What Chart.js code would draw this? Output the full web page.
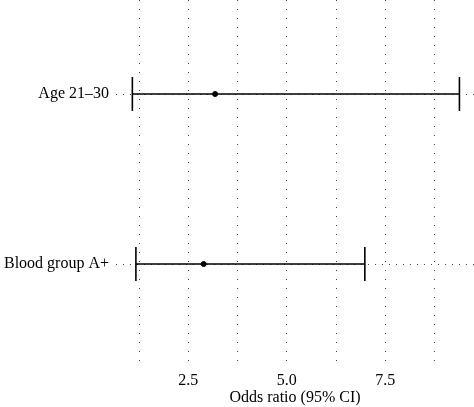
<!DOCTYPE html>
<html>
<head>
<meta charset="utf-8">
<script src="https://cdn.jsdelivr.net/npm/chart.js@4"></script>
<style>
  html, body { margin: 0; padding: 0; background: #fff; }
  #wrap { width: 474px; height: 407px; }
</style>
</head>
<body>
<div id="wrap"><canvas id="myChart"></canvas></div>
<script>
// forest plot data (row 1 = bottom)
const labels = ['Blood group A+', 'Age 21\u201330'];
const oddsRatio = [2.89, 3.18];
const lower = [1.17, 1.08];
const upper = [6.98, 9.38];
const xTicks = [1.25, 2.5, 3.75, 5.0, 6.25, 7.5, 8.75];
const xLabels = ['2.5', '5.0', '7.5'];

const font = { family: '"Liberation Serif", "DejaVu Serif", serif', size: 16 };

const datasets = [];
labels.forEach((lab, i) => {
    datasets.push({
        type: 'line',
        data: [{ x: lower[i], y: i + 1 }, { x: upper[i], y: i + 1 }],
        borderColor: '#000',
        borderWidth: 1.4,
        pointRadius: 0
    });
});
datasets.push({
    type: 'scatter',
    data: labels.flatMap((lab, i) => [{ x: lower[i], y: i + 1 }, { x: upper[i], y: i + 1 }]),
    pointStyle: 'line',
    rotation: 90,
    radius: 17,
    borderColor: '#000',
    borderWidth: 1.6
});
datasets.push({
    type: 'scatter',
    data: labels.map((lab, i) => ({ x: oddsRatio[i], y: i + 1 })),
    pointStyle: 'circle',
    radius: 2.5,
    backgroundColor: '#000',
    borderColor: '#000'
});

// drop the extra space chart.js keeps for edge tick labels
function noPad(axis) {
    axis.paddingTop = 0;
    axis.paddingBottom = 0;
    axis.paddingLeft = 0;
    axis.paddingRight = 0;
}

const ctx = document.getElementById('myChart').getContext('2d');
const myChart = new Chart(ctx, {
    data: { datasets: datasets },
    options: {
        responsive: true,
        maintainAspectRatio: false,
        animation: false,
        layout: { padding: 0, autoPadding: false },
        plugins: { legend: { display: false }, tooltip: { enabled: false } },
        scales: {
            x: {
                type: 'linear',
                min: 0.665,
                max: 9.75,
                afterBuildTicks: (axis) => { axis.ticks = xTicks.map(v => ({ value: v })); },
                afterFit: (axis) => { axis.height = 41; noPad(axis); },
                ticks: {
                    autoSkip: false,
                    maxRotation: 0,
                    color: '#000',
                    font: font,
                    padding: 5,
                    callback: (v) => {
                        const s = v.toFixed(1);
                        return xLabels.includes(s) ? s : '';
                    }
                },
                grid: { color: '#444', lineWidth: 1, drawTicks: false },
                border: { display: false, dash: [1, 8] },
                title: { display: true, text: 'Odds ratio (95% CI)', color: '#000', font: font, padding: 0 }
            },
            y: {
                type: 'linear',
                min: 0.4,
                max: 2.553,
                afterBuildTicks: (axis) => { axis.ticks = labels.map((l, i) => ({ value: i + 1 })); },
                afterFit: (axis) => { axis.width = 116; noPad(axis); },
                ticks: {
                    color: '#000',
                    font: font,
                    padding: 7,
                    callback: (v) => labels[v - 1]
                },
                grid: { color: '#444', lineWidth: 1, drawTicks: false },
                border: { display: false, dash: [1, 6] }
            }
        }
    }
});
</script>
</body>
</html>
